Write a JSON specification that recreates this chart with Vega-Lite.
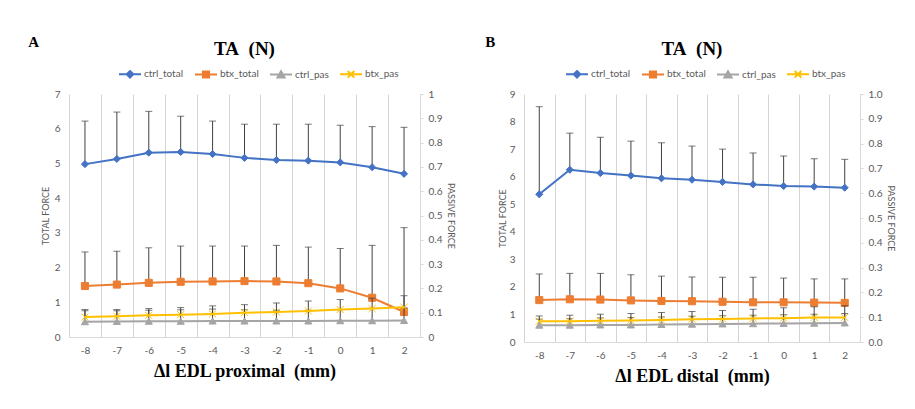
{
  "$schema": "https://vega.github.io/schema/vega-lite/v6.json",
  "background": "white",
  "padding": {"left": 28, "top": 35, "right": 5, "bottom": 5},
  "config": {
    "font": "Lato",
    "view": {"stroke": null},
    "title": {"font": "Liberation Serif", "fontWeight": "bold", "fontSize": 19, "color": "#000000"},
    "axis": {"labelColor": "#595959", "labelFontSize": 10, "titleColor": "#595959", "titleFontSize": 9, "titleFontWeight": "normal", "domainColor": "#d9d9d9", "tickColor": "#d9d9d9", "gridColor": "#d9d9d9"}
  },
  "datasets": {
    "A_total": [
      {"dl": -8, "series": "ctrl_total", "mean": 4.98, "upper": 6.22},
      {"dl": -7, "series": "ctrl_total", "mean": 5.13, "upper": 6.48},
      {"dl": -6, "series": "ctrl_total", "mean": 5.31, "upper": 6.50},
      {"dl": -5, "series": "ctrl_total", "mean": 5.33, "upper": 6.36},
      {"dl": -4, "series": "ctrl_total", "mean": 5.27, "upper": 6.22},
      {"dl": -3, "series": "ctrl_total", "mean": 5.16, "upper": 6.13},
      {"dl": -2, "series": "ctrl_total", "mean": 5.10, "upper": 6.13},
      {"dl": -1, "series": "ctrl_total", "mean": 5.08, "upper": 6.13},
      {"dl": 0, "series": "ctrl_total", "mean": 5.03, "upper": 6.10},
      {"dl": 1, "series": "ctrl_total", "mean": 4.89, "upper": 6.06},
      {"dl": 2, "series": "ctrl_total", "mean": 4.70, "upper": 6.04},
      {"dl": -8, "series": "btx_total", "mean": 1.47, "upper": 2.45},
      {"dl": -7, "series": "btx_total", "mean": 1.51, "upper": 2.47},
      {"dl": -6, "series": "btx_total", "mean": 1.56, "upper": 2.57},
      {"dl": -5, "series": "btx_total", "mean": 1.59, "upper": 2.62},
      {"dl": -4, "series": "btx_total", "mean": 1.60, "upper": 2.62},
      {"dl": -3, "series": "btx_total", "mean": 1.61, "upper": 2.62},
      {"dl": -2, "series": "btx_total", "mean": 1.60, "upper": 2.64},
      {"dl": -1, "series": "btx_total", "mean": 1.55, "upper": 2.59},
      {"dl": 0, "series": "btx_total", "mean": 1.40, "upper": 2.55},
      {"dl": 1, "series": "btx_total", "mean": 1.13, "upper": 2.64},
      {"dl": 2, "series": "btx_total", "mean": 0.72, "upper": 3.15}
    ],
    "A_pas": [
      {"dl": -8, "series": "ctrl_pas", "mean": 0.063, "upper": 0.108},
      {"dl": -7, "series": "ctrl_pas", "mean": 0.064, "upper": 0.108},
      {"dl": -6, "series": "ctrl_pas", "mean": 0.065, "upper": 0.110},
      {"dl": -5, "series": "ctrl_pas", "mean": 0.065, "upper": 0.112},
      {"dl": -4, "series": "ctrl_pas", "mean": 0.066, "upper": 0.115},
      {"dl": -3, "series": "ctrl_pas", "mean": 0.066, "upper": 0.112},
      {"dl": -2, "series": "ctrl_pas", "mean": 0.066, "upper": 0.110},
      {"dl": -1, "series": "ctrl_pas", "mean": 0.066, "upper": 0.110},
      {"dl": 0, "series": "ctrl_pas", "mean": 0.067, "upper": 0.112},
      {"dl": 1, "series": "ctrl_pas", "mean": 0.067, "upper": 0.118},
      {"dl": 2, "series": "ctrl_pas", "mean": 0.068, "upper": 0.120},
      {"dl": -8, "series": "btx_pas", "mean": 0.082, "upper": 0.113},
      {"dl": -7, "series": "btx_pas", "mean": 0.085, "upper": 0.113},
      {"dl": -6, "series": "btx_pas", "mean": 0.089, "upper": 0.117},
      {"dl": -5, "series": "btx_pas", "mean": 0.092, "upper": 0.121},
      {"dl": -4, "series": "btx_pas", "mean": 0.095, "upper": 0.128},
      {"dl": -3, "series": "btx_pas", "mean": 0.100, "upper": 0.133},
      {"dl": -2, "series": "btx_pas", "mean": 0.103, "upper": 0.140},
      {"dl": -1, "series": "btx_pas", "mean": 0.107, "upper": 0.148},
      {"dl": 0, "series": "btx_pas", "mean": 0.113, "upper": 0.154},
      {"dl": 1, "series": "btx_pas", "mean": 0.117, "upper": 0.160},
      {"dl": 2, "series": "btx_pas", "mean": 0.122, "upper": 0.170}
    ],
    "B_total": [
      {"dl": -8, "series": "ctrl_total", "mean": 5.36, "upper": 8.54},
      {"dl": -7, "series": "ctrl_total", "mean": 6.25, "upper": 7.58},
      {"dl": -6, "series": "ctrl_total", "mean": 6.13, "upper": 7.43},
      {"dl": -5, "series": "ctrl_total", "mean": 6.04, "upper": 7.29},
      {"dl": -4, "series": "ctrl_total", "mean": 5.94, "upper": 7.23},
      {"dl": -3, "series": "ctrl_total", "mean": 5.89, "upper": 7.11},
      {"dl": -2, "series": "ctrl_total", "mean": 5.81, "upper": 7.00},
      {"dl": -1, "series": "ctrl_total", "mean": 5.72, "upper": 6.86},
      {"dl": 0, "series": "ctrl_total", "mean": 5.66, "upper": 6.75},
      {"dl": 1, "series": "ctrl_total", "mean": 5.64, "upper": 6.65},
      {"dl": 2, "series": "ctrl_total", "mean": 5.60, "upper": 6.63},
      {"dl": -8, "series": "btx_total", "mean": 1.52, "upper": 2.47},
      {"dl": -7, "series": "btx_total", "mean": 1.55, "upper": 2.49},
      {"dl": -6, "series": "btx_total", "mean": 1.54, "upper": 2.49},
      {"dl": -5, "series": "btx_total", "mean": 1.51, "upper": 2.44},
      {"dl": -4, "series": "btx_total", "mean": 1.49, "upper": 2.39},
      {"dl": -3, "series": "btx_total", "mean": 1.48, "upper": 2.36},
      {"dl": -2, "series": "btx_total", "mean": 1.46, "upper": 2.35},
      {"dl": -1, "series": "btx_total", "mean": 1.44, "upper": 2.35},
      {"dl": 0, "series": "btx_total", "mean": 1.44, "upper": 2.32},
      {"dl": 1, "series": "btx_total", "mean": 1.43, "upper": 2.29},
      {"dl": 2, "series": "btx_total", "mean": 1.42, "upper": 2.29}
    ],
    "B_pas": [
      {"dl": -8, "series": "ctrl_pas", "mean": 0.068, "upper": 0.092},
      {"dl": -7, "series": "ctrl_pas", "mean": 0.068, "upper": 0.094},
      {"dl": -6, "series": "ctrl_pas", "mean": 0.069, "upper": 0.097},
      {"dl": -5, "series": "ctrl_pas", "mean": 0.069, "upper": 0.099},
      {"dl": -4, "series": "ctrl_pas", "mean": 0.071, "upper": 0.101},
      {"dl": -3, "series": "ctrl_pas", "mean": 0.072, "upper": 0.104},
      {"dl": -2, "series": "ctrl_pas", "mean": 0.073, "upper": 0.106},
      {"dl": -1, "series": "ctrl_pas", "mean": 0.074, "upper": 0.108},
      {"dl": 0, "series": "ctrl_pas", "mean": 0.075, "upper": 0.110},
      {"dl": 1, "series": "ctrl_pas", "mean": 0.076, "upper": 0.112},
      {"dl": 2, "series": "ctrl_pas", "mean": 0.077, "upper": 0.115},
      {"dl": -8, "series": "btx_pas", "mean": 0.084, "upper": 0.105},
      {"dl": -7, "series": "btx_pas", "mean": 0.084, "upper": 0.108},
      {"dl": -6, "series": "btx_pas", "mean": 0.086, "upper": 0.112},
      {"dl": -5, "series": "btx_pas", "mean": 0.087, "upper": 0.115},
      {"dl": -4, "series": "btx_pas", "mean": 0.089, "upper": 0.119},
      {"dl": -3, "series": "btx_pas", "mean": 0.092, "upper": 0.123},
      {"dl": -2, "series": "btx_pas", "mean": 0.093, "upper": 0.127},
      {"dl": -1, "series": "btx_pas", "mean": 0.095, "upper": 0.132},
      {"dl": 0, "series": "btx_pas", "mean": 0.096, "upper": 0.138},
      {"dl": 1, "series": "btx_pas", "mean": 0.099, "upper": 0.142},
      {"dl": 2, "series": "btx_pas", "mean": 0.099, "upper": 0.146}
    ]
  },
  "spacing": 30,
  "resolve": {"scale": {"color": "independent", "shape": "independent", "stroke": "independent"}, "legend": {"color": "independent"}},
  "hconcat": [
    {
      "title": {"text": "A", "anchor": "start", "fontSize": 15, "offset": -10, "dx": -13},
      "resolve": {"legend": {"color": "independent"}},
      "vconcat": [
        {
          "title": {"text": "TA\u00a0 (N)", "offset": 3},
          "width": 351,
          "height": 243,
          "encoding": {
            "x": {"field": "dl", "type": "ordinal",
              "scale": {"type": "band", "domain": [-8, -7, -6, -5, -4, -3, -2, -1, 0, 1, 2], "paddingInner": 0, "paddingOuter": 0},
              "axis": {"title": "Δl EDL proximal\u00a0 (mm)", "titleFont": "Liberation Serif", "titleFontWeight": "bold", "titleFontSize": 18, "titleColor": "#000000", "titlePadding": 7, "labelAngle": 0, "grid": true, "gridColor": "#d4d4d4", "gridOpacity": 1, "gridWidth": 1, "tickBand": "extent", "ticks": false, "labelPadding": 8, "domainColor": "#d9d9d9"}}
          },
          "layer": [
            {
              "data": {"name": "A_total"},
              "encoding": {
                "y": {"field": "mean", "type": "quantitative", "scale": {"domain": [0, 7]},
                  "axis": {"title": "TOTAL FORCE", "values": [0, 1, 2, 3, 4, 5, 6, 7], "grid": false, "domain": false, "ticks": false, "labelPadding": 9, "titlePadding": 4}}
              },
              "layer": [
                {"mark": {"type": "rule", "color": "#404040", "strokeWidth": 1}, "encoding": {"y2": {"field": "upper"}}},
                {"mark": {"type": "tick", "color": "#404040", "thickness": 1, "size": 7}, "encoding": {"y": {"field": "upper", "type": "quantitative", "title": "TOTAL FORCE"}}},
                {"mark": {"type": "line", "strokeWidth": 2},
                  "encoding": {"color": {"field": "series", "type": "nominal",
                    "scale": {"domain": ["ctrl_total", "btx_total", "ctrl_pas", "btx_pas"], "range": ["#4472C4", "#ED7D31", "#A5A5A5", "#FFC000"]},
                    "legend": {"orient": "none", "legendX": 49, "legendY": -32, "direction": "horizontal", "title": null, "labelFontSize": 10, "labelColor": "#595959", "symbolSize": 484, "symbolStrokeWidth": 2, "columnPadding": 7, "labelOffset": 2,
                      "encode": {"symbols": {"update": {
                        "shape": {"signal": "datum.value === 'ctrl_total' ? 'M-1,0H1M0,-0.3L0.3,0L0,0.3L-0.3,0Z' : datum.value === 'btx_total' ? 'M-1,0H1M-0.28,-0.28H0.28V0.28H-0.28Z' : datum.value === 'ctrl_pas' ? 'M-1,0H1M0,-0.3L0.32,0.26H-0.32Z' : 'M-1,0H1M-0.3,-0.3L0.3,0.3M-0.3,0.3L0.3,-0.3'"},
                        "fill": {"signal": "datum.value === 'ctrl_total' ? '#4472C4' : datum.value === 'btx_total' ? '#ED7D31' : datum.value === 'ctrl_pas' ? '#A5A5A5' : '#FFC000'"},
                        "stroke": {"signal": "datum.value === 'ctrl_total' ? '#4472C4' : datum.value === 'btx_total' ? '#ED7D31' : datum.value === 'ctrl_pas' ? '#A5A5A5' : '#FFC000'"},
                        "opacity": {"value": 1}
                      }}}}}}},
                {"mark": {"type": "point", "filled": true, "size": 50, "opacity": 1, "strokeWidth": 1},
                  "encoding": {
                    "color": {"field": "series", "type": "nominal", "scale": {"domain": ["ctrl_total", "btx_total", "ctrl_pas", "btx_pas"], "range": ["#4472C4", "#ED7D31", "#A5A5A5", "#FFC000"]}},
                    "stroke": {"field": "series", "type": "nominal", "scale": {"domain": ["ctrl_total", "btx_total", "ctrl_pas", "btx_pas"], "range": ["#4472C4", "#ED7D31", "#A5A5A5", "#FFC000"]}, "legend": null},
                    "shape": {"field": "series", "type": "nominal", "scale": {"domain": ["ctrl_total", "btx_total", "ctrl_pas", "btx_pas"], "range": ["diamond", "square", "triangle-up", "M-1,-1L1,1M-1,1L1,-1"]}, "legend": null}
                  }}
              ]
            },
            {
              "data": {"name": "A_pas"},
              "encoding": {
                "y": {"field": "mean", "type": "quantitative", "scale": {"domain": [0, 1]},
                  "axis": {"orient": "right", "title": "PASSIVE FORCE", "values": [0, 0.1, 0.2, 0.3, 0.4, 0.5, 0.6, 0.7, 0.8, 0.9, 1], "format": ".1~f", "grid": false, "domain": true, "ticks": true, "tickSize": 3, "labelPadding": 5, "titlePadding": 4}}
              },
              "layer": [
                {"mark": {"type": "rule", "color": "#404040", "strokeWidth": 1}, "encoding": {"y2": {"field": "upper"}}},
                {"mark": {"type": "tick", "color": "#404040", "thickness": 1, "size": 7}, "encoding": {"y": {"field": "upper", "type": "quantitative", "title": "PASSIVE FORCE"}}},
                {"mark": {"type": "line", "strokeWidth": 2},
                  "encoding": {"color": {"field": "series", "type": "nominal", "scale": {"domain": ["ctrl_total", "btx_total", "ctrl_pas", "btx_pas"], "range": ["#4472C4", "#ED7D31", "#A5A5A5", "#FFC000"]}}}},
                {"mark": {"type": "point", "filled": true, "size": 50, "opacity": 1, "strokeWidth": 1},
                  "encoding": {
                    "color": {"field": "series", "type": "nominal", "scale": {"domain": ["ctrl_total", "btx_total", "ctrl_pas", "btx_pas"], "range": ["#4472C4", "#ED7D31", "#A5A5A5", "#FFC000"]}},
                    "stroke": {"field": "series", "type": "nominal", "scale": {"domain": ["ctrl_total", "btx_total", "ctrl_pas", "btx_pas"], "range": ["#4472C4", "#ED7D31", "#A5A5A5", "#FFC000"]}, "legend": null},
                    "shape": {"field": "series", "type": "nominal", "scale": {"domain": ["ctrl_total", "btx_total", "ctrl_pas", "btx_pas"], "range": ["diamond", "square", "triangle-up", "M-1,-1L1,1M-1,1L1,-1"]}, "legend": null}
                  }}
              ]
            }
          ],
          "resolve": {"scale": {"y": "independent"}, "axis": {"y": "independent"}}
        }
      ]
    },
    {
      "title": {"text": "B", "anchor": "start", "fontSize": 15, "offset": -10, "dx": -13},
      "resolve": {"legend": {"color": "independent"}},
      "vconcat": [
        {
          "title": {"text": "TA\u00a0 (N)", "offset": 3},
          "width": 336,
          "height": 248,
          "encoding": {
            "x": {"field": "dl", "type": "ordinal",
              "scale": {"type": "band", "domain": [-8, -7, -6, -5, -4, -3, -2, -1, 0, 1, 2], "paddingInner": 0, "paddingOuter": 0},
              "axis": {"title": "Δl EDL distal\u00a0 (mm)", "titleFont": "Liberation Serif", "titleFontWeight": "bold", "titleFontSize": 18, "titleColor": "#000000", "titlePadding": 7, "labelAngle": 0, "grid": true, "gridColor": "#d4d4d4", "gridOpacity": 1, "gridWidth": 1, "tickBand": "extent", "ticks": false, "labelPadding": 8, "domainColor": "#d9d9d9"}}
          },
          "layer": [
            {
              "data": {"name": "B_total"},
              "encoding": {
                "y": {"field": "mean", "type": "quantitative", "scale": {"domain": [0, 9]},
                  "axis": {"title": "TOTAL FORCE", "values": [0, 1, 2, 3, 4, 5, 6, 7, 8, 9], "grid": false, "domain": false, "ticks": false, "labelPadding": 9, "titlePadding": 2}}
              },
              "layer": [
                {"mark": {"type": "rule", "color": "#404040", "strokeWidth": 1}, "encoding": {"y2": {"field": "upper"}}},
                {"mark": {"type": "tick", "color": "#404040", "thickness": 1, "size": 7}, "encoding": {"y": {"field": "upper", "type": "quantitative", "title": "TOTAL FORCE"}}},
                {"mark": {"type": "line", "strokeWidth": 2},
                  "encoding": {"color": {"field": "series", "type": "nominal",
                    "scale": {"domain": ["ctrl_total", "btx_total", "ctrl_pas", "btx_pas"], "range": ["#4472C4", "#ED7D31", "#A5A5A5", "#FFC000"]},
                    "legend": {"orient": "none", "legendX": 41, "legendY": -32, "direction": "horizontal", "title": null, "labelFontSize": 10, "labelColor": "#595959", "symbolSize": 484, "symbolStrokeWidth": 2, "columnPadding": 7, "labelOffset": 2,
                      "encode": {"symbols": {"update": {
                        "shape": {"signal": "datum.value === 'ctrl_total' ? 'M-1,0H1M0,-0.3L0.3,0L0,0.3L-0.3,0Z' : datum.value === 'btx_total' ? 'M-1,0H1M-0.28,-0.28H0.28V0.28H-0.28Z' : datum.value === 'ctrl_pas' ? 'M-1,0H1M0,-0.3L0.32,0.26H-0.32Z' : 'M-1,0H1M-0.3,-0.3L0.3,0.3M-0.3,0.3L0.3,-0.3'"},
                        "fill": {"signal": "datum.value === 'ctrl_total' ? '#4472C4' : datum.value === 'btx_total' ? '#ED7D31' : datum.value === 'ctrl_pas' ? '#A5A5A5' : '#FFC000'"},
                        "stroke": {"signal": "datum.value === 'ctrl_total' ? '#4472C4' : datum.value === 'btx_total' ? '#ED7D31' : datum.value === 'ctrl_pas' ? '#A5A5A5' : '#FFC000'"},
                        "opacity": {"value": 1}
                      }}}}}}},
                {"mark": {"type": "point", "filled": true, "size": 50, "opacity": 1, "strokeWidth": 1},
                  "encoding": {
                    "color": {"field": "series", "type": "nominal", "scale": {"domain": ["ctrl_total", "btx_total", "ctrl_pas", "btx_pas"], "range": ["#4472C4", "#ED7D31", "#A5A5A5", "#FFC000"]}},
                    "stroke": {"field": "series", "type": "nominal", "scale": {"domain": ["ctrl_total", "btx_total", "ctrl_pas", "btx_pas"], "range": ["#4472C4", "#ED7D31", "#A5A5A5", "#FFC000"]}, "legend": null},
                    "shape": {"field": "series", "type": "nominal", "scale": {"domain": ["ctrl_total", "btx_total", "ctrl_pas", "btx_pas"], "range": ["diamond", "square", "triangle-up", "M-1,-1L1,1M-1,1L1,-1"]}, "legend": null}
                  }}
              ]
            },
            {
              "data": {"name": "B_pas"},
              "encoding": {
                "y": {"field": "mean", "type": "quantitative", "scale": {"domain": [0, 1]},
                  "axis": {"orient": "right", "title": "PASSIVE FORCE", "values": [0, 0.1, 0.2, 0.3, 0.4, 0.5, 0.6, 0.7, 0.8, 0.9, 1], "format": ".1f", "grid": false, "domain": true, "ticks": true, "tickSize": 3, "labelPadding": 5, "titlePadding": 4}}
              },
              "layer": [
                {"mark": {"type": "rule", "color": "#404040", "strokeWidth": 1}, "encoding": {"y2": {"field": "upper"}}},
                {"mark": {"type": "tick", "color": "#404040", "thickness": 1, "size": 7}, "encoding": {"y": {"field": "upper", "type": "quantitative", "title": "PASSIVE FORCE"}}},
                {"mark": {"type": "line", "strokeWidth": 2},
                  "encoding": {"color": {"field": "series", "type": "nominal", "scale": {"domain": ["ctrl_total", "btx_total", "ctrl_pas", "btx_pas"], "range": ["#4472C4", "#ED7D31", "#A5A5A5", "#FFC000"]}}}},
                {"mark": {"type": "point", "filled": true, "size": 50, "opacity": 1, "strokeWidth": 1},
                  "encoding": {
                    "color": {"field": "series", "type": "nominal", "scale": {"domain": ["ctrl_total", "btx_total", "ctrl_pas", "btx_pas"], "range": ["#4472C4", "#ED7D31", "#A5A5A5", "#FFC000"]}},
                    "stroke": {"field": "series", "type": "nominal", "scale": {"domain": ["ctrl_total", "btx_total", "ctrl_pas", "btx_pas"], "range": ["#4472C4", "#ED7D31", "#A5A5A5", "#FFC000"]}, "legend": null},
                    "shape": {"field": "series", "type": "nominal", "scale": {"domain": ["ctrl_total", "btx_total", "ctrl_pas", "btx_pas"], "range": ["diamond", "square", "triangle-up", "M-1,-1L1,1M-1,1L1,-1"]}, "legend": null}
                  }}
              ]
            }
          ],
          "resolve": {"scale": {"y": "independent"}, "axis": {"y": "independent"}}
        }
      ]
    }
  ]
}
